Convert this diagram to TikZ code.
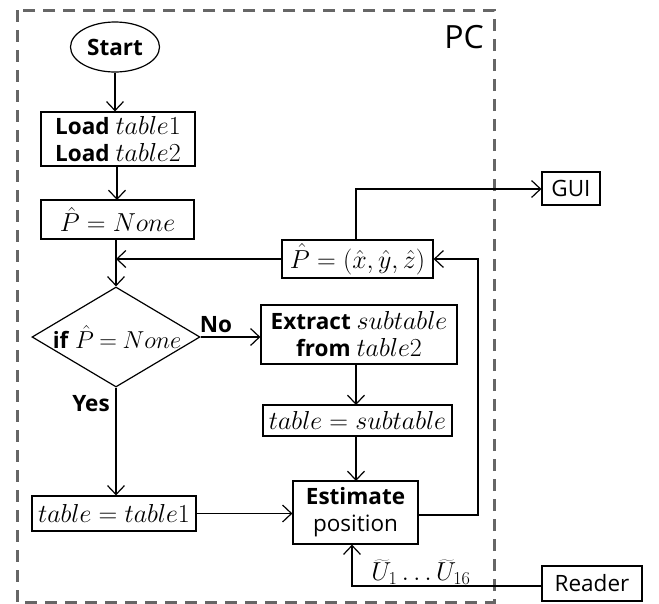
\documentclass[tikz,border=0pt]{standalone}
\usepackage{fix-cm}
\usepackage{fontspec}
\setmainfont{Open Sans}
\usetikzlibrary{shapes.geometric,arrows.meta}
\newcommand{\mw}[1]{{\fontsize{26}{27}\selectfont$#1$}}
\newcommand{\mws}[1]{{\fontsize{24.5}{27}\selectfont$\thickmuskip=4mu #1$}}
\definecolor{pcgray}{HTML}{666666}
\tikzset{
  box/.style={draw, line width=1.2pt, inner sep=0pt, align=center, font=\fontsize{22.5}{27}\selectfont},
  arr/.style={-{Straight Barb[length=9pt,width=17pt]}, line width=1.2pt},
  ln/.style={line width=1.2pt},
  lbl/.style={inner sep=0pt, font=\fontsize{22.5}{27}\selectfont}
}
\begin{document}
\begin{tikzpicture}[x=1pt,y=-1pt]
\useasboundingbox (0,0) rectangle (659,603);
\draw[pcgray, line width=3pt, dash pattern=on 12pt off 8pt] (17,10) rectangle (494,602);
\node[anchor=east, inner sep=0pt, font=\fontsize{32}{36}\selectfont] (pc) at (484,37) {PC};

\node[box, ellipse, minimum width=89pt, minimum height=50pt] (start) at (115,47) {\textbf{Start}};
\node[box, minimum width=154pt, minimum height=54pt] (load) at (118,139) {\textbf{Load} \mw{table1}\\\textbf{Load} \mw{table2}};
\node[box, minimum width=153pt, minimum height=39pt] (pnone) at (117.5,219.5) {\mw{\hat{P} = None}};
\node[draw, diamond, line width=1.2pt, minimum width=168pt, minimum height=100pt, inner sep=0pt] (dec) at (116,337) {};
\node[lbl] (dectext) at (117,337) {\textbf{if} \mws{\hat{P} = None}};
\node[box, minimum width=196pt, minimum height=59pt] (extract) at (359,334.5) {\textbf{Extract} \mw{subtable}\\\textbf{from} \mw{table2}};
\node[box, minimum width=189pt, minimum height=31pt] (sub) at (357.5,420.5) {\mw{table = subtable}};
\node[box, minimum width=164pt, minimum height=35pt] (tab1) at (114,513.5) {\mw{table = table1}};
\node[box, minimum width=125pt, minimum height=63pt] (est) at (355.5,512.5) {\textbf{Estimate}\\position};
\node[box, minimum width=151pt, minimum height=38pt] (phat) at (357.5,259) {\mw{\hat{P} = (\hat{x},\hat{y},\hat{z})}};
\node[box, minimum width=58pt, minimum height=33pt] (gui) at (571,188.5) {GUI};
\node[box, minimum width=100pt, minimum height=35pt] (reader) at (592,583.5) {Reader};

\node[lbl] (no) at (216,325) {\textbf{No}};
\node[lbl] (yes) at (91,404) {\textbf{Yes}};
\node[lbl] (ulbl) at (421,572) {\mw{\widetilde{U}_1 \ldots \widetilde{U}_{16}}};

\coordinate (merge) at (116,259);
\coordinate (c1) at (478,515);
\coordinate (c2) at (478,259);
\coordinate (c3) at (356,189);
\coordinate (c4) at (352,586);

\draw[arr] (start.south) -- (start.south |- load.north);
\draw[arr] (load.south -| 117,0) -- (117,200);
\draw[arr] (pnone.south -| merge) -- (dec.north);
\draw[arr] (phat.west) -- (merge);
\draw[arr] (dec.east) -- (extract.west |- dec.east);
\draw[arr] (dec.south) -- (dec.south |- tab1.north);
\draw[arr] (extract.south -| 356,0) -- (356,405);
\draw[arr] (sub.south -| 356,0) -- (356,481);
\draw[arr] (tab1.east) -- (est.west |- tab1.east);
\draw[arr] (est.east |- c1) -- (c1) -- (c2) -- (phat.east);
\draw[arr] (phat.north -| c3) -- (c3) -- (gui.west |- c3);
\draw[arr] (reader.west |- c4) -- (c4) -- (c4 |- est.south);
\end{tikzpicture}
\end{document}
